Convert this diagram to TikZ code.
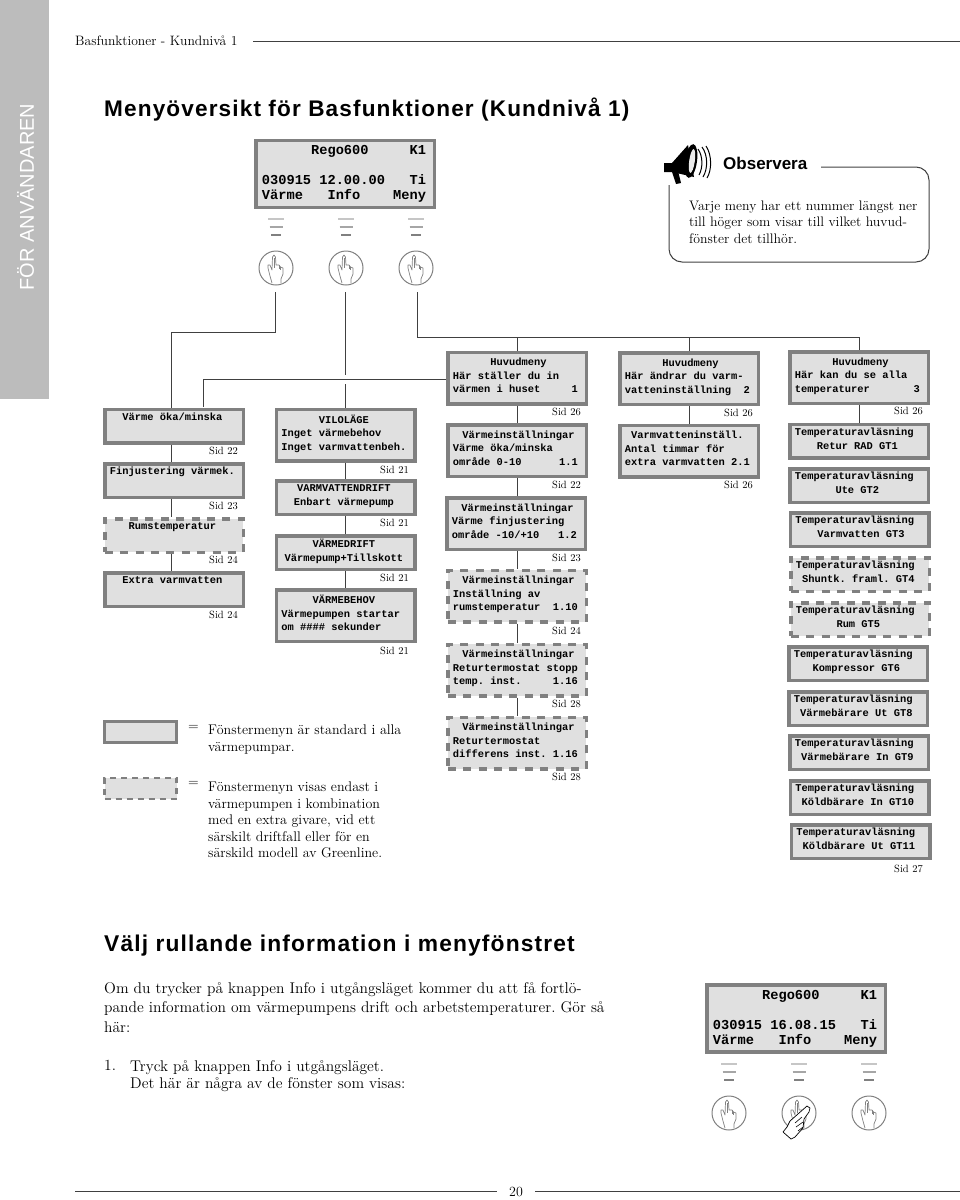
\documentclass[tikz,border=0pt]{standalone}
\usepackage{fontspec}
\newfontfamily\lcdface{Liberation Mono}
\newfontfamily\headface[LetterSpace=5]{Liberation Sans}
\newfontfamily\sideface{Liberation Sans}
\newfontfamily\infoface[OpticalSize=12]{Latin Modern Roman}
\newcommand{\halfgap}{\leavevmode\kern0.3em }
\newcommand{\fixedcells}{\frenchspacing\fontdimen2\font=0.6em\fontdimen3\font=0pt\fontdimen4\font=0pt\relax}
\definecolor{lcdfill}{HTML}{E0E0E0}
\definecolor{lcdedge}{HTML}{808080}
\definecolor{sidebar}{HTML}{BCBCBC}
\definecolor{wire}{HTML}{404040}
\tikzset{
    stdbox/.style={draw=lcdedge, fill=lcdfill, line width=3.5pt, minimum width=138.5pt, inner xsep=5.2pt, inner ysep=0pt,
        text width=128.1pt, align=flush left, font=\lcdface\bfseries\fontsize{10.4}{13.7}\selectfont\fixedcells,
        execute at end node={\rule[-5pt]{0pt}{5pt}}},
    optbox/.style={stdbox, dash pattern=on 8pt off 7.4pt},
    twoline/.style={minimum height=33.5pt},
    threeline/.style={minimum height=51.5pt},
    lcdbox/.style={stdbox, minimum width=178.5pt, minimum height=67pt, inner xsep=6.2pt, text width=166.1pt,
        font=\lcdface\bfseries\fontsize{13.67}{15}\selectfont\fixedcells, execute at begin node={\rule{0pt}{11.6pt}}},
    wireline/.style={draw=wire, line width=1pt},
    sidtext/.style={anchor=east, inner sep=0pt, font=\fontsize{10.5}{12}\selectfont},
    bodytext/.style={anchor=north west, inner sep=0pt, align=left, font=\fontsize{14}{16.6}\selectfont\frenchspacing},
    infotext/.style={bodytext, font=\infoface\fontsize{15.5}{19.5}\selectfont\frenchspacing},
    keybtn/.style={circle, draw=lcdedge, line width=1pt, minimum size=34pt, inner sep=0pt},
    keyhand/.pic={
        \draw[lcdedge, line width=0.7pt, line join=round]
            (-4,15) -- (-6,8) -- (-8,0) -- (-8,-3) -- (-6,-3) -- (-4,2) -- (-3.5,-11) -- (-2,-13) -- (-0.5,-11) -- (0,-3)
            -- (3,-3) -- (4.5,-1) -- (7,0) -- (7,6) -- (5,11) -- (5,15);
        \draw[lcdedge, line width=0.5pt] (-1.5,-10) -- (-1.5,0) (3,-3) -- (3,1) (4.5,-1) -- (4.5,2);
    },
    keymarks/.pic={
        \draw[gray!45, line width=1.2pt] (-8,0) -- (8,0);
        \draw[gray!70, line width=1.2pt] (-6.5,8) -- (6.5,8);
        \draw[gray, line width=1.5pt] (-5,16) -- (5,16);
    }
}
\begin{document}
\begin{tikzpicture}[x=1pt, y=-1pt]
    \useasboundingbox (0,0) rectangle (960,1200);

    % 1. sidebar, header and footer
    \fill[sidebar] (0,0) rectangle (49,399);
    \node[rotate=90, text=white, inner sep=0pt, font=\sideface\fontsize{20}{24}\selectfont] (sidebarText) at (25.5,197) {FÖR ANVÄNDAREN};
    \node[anchor=west, inner sep=0pt, font=\fontsize{13.6}{16}\selectfont\frenchspacing] (pageHead) at (75,41) {Basfunktioner - Kundnivå 1};
    \coordinate (headEnd) at (960,41);
    \draw[wireline] (253,41) -- (headEnd);
    \node[inner sep=0pt, font=\fontsize{14}{16}\selectfont] (pageNum) at (516,1192) {20};
    \coordinate (footLeft) at (75,1191);
    \coordinate (footRight) at (960,1191);
    \draw[wireline] (footLeft) -- (497,1191) (535,1191) -- (footRight);
    \node[anchor=west, inner sep=0pt, font=\headface\bfseries\fontsize{22.6}{26}\selectfont] (titleMain) at (104,110) {Menyöversikt för Basfunktioner (Kundnivå 1)};
    \node[anchor=west, inner sep=0pt, font=\headface\bfseries\fontsize{22.8}{26}\selectfont] (titleInfo) at (104,946) {Välj rullande information i menyfönstret};

    % 2. displays and keys
    \node[lcdbox] (lcdTop) at (345,174) {~~~~~~Rego600~~~~~K1\\ ~\\030915 12.00.00~~~Ti\\Värme~~~Info~~~~Meny};
    \node[lcdbox] (lcdInfo) at (796,1018.5) {~~~~~~Rego600~~~~~K1\\ ~\\030915 16.08.15~~~Ti\\Värme~~~Info~~~~Meny};
    \foreach \kname/\kx/\ky/\my in {keyVarme/276/268/219, keyInfo/346/268/219, keyMeny/416/268/219, keyA/729/1113/1064, keyB/799/1113/1064, keyC/869/1113/1064} {
        \node[keybtn] (\kname) at (\kx,\ky) {};
        \pic at (\kname) {keyhand};
        \pic at (\kx,\my) {keymarks};
    }
    % pressing hand on the Info key
    \draw[black, fill=white, line width=0.7pt, line join=round] (807,1106) -- (810,1108) -- (809,1112) -- (804,1119) -- (803,1128)
        -- (795,1137) -- (791,1139) -- (783,1132) -- (787,1127) -- (790,1121) -- cycle;
    \draw[black, line width=0.6pt] (795,1123) -- (802,1117) (796,1127) -- (803,1122) (798,1131) -- (803,1127);

    % 3. menu boxes, column by column
    \node[stdbox, twoline] (vOka) at (174,426) {~~Värme öka/minska\\ ~};
    \node[stdbox, twoline] (vFin) at (174,480.5) {Finjustering värmek.\\ ~};
    \node[optbox, twoline] (vRum) at (174,535.5) {~~~Rumstemperatur\\ ~};
    \node[stdbox, twoline] (vExtra) at (174,589.5) {~~Extra varmvatten\\ ~};

    \node[stdbox, threeline] (iVilo) at (345.5,435) {~~~~~~VILOLÄGE\\Inget värmebehov\\Inget varmvattenbeh.};
    \node[stdbox, twoline] (iVatten) at (345.5,497.5) {~~\halfgap VARMVATTENDRIFT\\~~Enbart värmepump};
    \node[stdbox, twoline] (iDrift) at (345.5,552.5) {~~~~~VÄRMEDRIFT\\\halfgap Värmepump+Tillskott};
    \node[stdbox, threeline] (iBehov) at (345.5,615.5) {~~~~~VÄRMEBEHOV\\Värmepumpen startar\\om \#\#\#\# sekunder};

    \node[stdbox, threeline] (huvudEtt) at (517,378) {~~~~~~Huvudmeny\\Här ställer du in\\värmen i huset~~~~~1};
    \node[stdbox, threeline] (m11) at (517,450.5) {~\halfgap Värmeinställningar\\Värme öka/minska\\område 0-10~~~~~~1.1};
    \node[stdbox, threeline] (m12) at (516,523.5) {~\halfgap Värmeinställningar\\Värme finjustering\\område -10/+10~~~1.2};
    \node[optbox, threeline] (m110) at (517,596) {~\halfgap Värmeinställningar\\Inställning av\\rumstemperatur~~1.10};
    \node[optbox, threeline] (m116a) at (517,670) {~\halfgap Värmeinställningar\\Returtermostat stopp\\temp. inst.~~~~~1.16};
    \node[optbox, threeline] (m116b) at (517,743) {~\halfgap Värmeinställningar\\Returtermostat\\differens inst. 1.16};

    \node[stdbox, threeline] (huvudTva) at (689,378.5) {~~~~~~Huvudmeny\\Här ändrar du varm-\\vatteninställning~~2};
    \node[stdbox, threeline] (m21) at (689,451) {~Varmvatteninställ.\\Antal timmar för\\extra varmvatten 2.1};

    \node[stdbox, threeline] (huvudTre) at (859,377.5) {~~~~~~Huvudmeny\\Här kan du se alla\\temperaturer~~~~~~~3};
    \node[stdbox, twoline] (gt1) at (859,441) {Temperaturavläsning\\~~~\halfgap Retur RAD GT1};
    \node[stdbox, twoline] (gt2) at (859,485.5) {Temperaturavläsning\\~~~~~~\halfgap Ute GT2};
    \node[stdbox, twoline] (gt3) at (859.5,529.5) {Temperaturavläsning\\~~~\halfgap Varmvatten GT3};
    \node[optbox, twoline] (gt4) at (860,574.5) {Temperaturavläsning\\~Shuntk. framl. GT4};
    \node[optbox, twoline] (gt5) at (860,619.5) {Temperaturavläsning\\~~~~~~\halfgap Rum GT5};
    \node[stdbox, twoline] (gt6) at (858,663.5) {Temperaturavläsning\\~~~Kompressor GT6};
    \node[stdbox, twoline] (gt8) at (858,708.5) {Temperaturavläsning\\~Värmebärare Ut GT8};
    \node[stdbox, twoline] (gt9) at (859,752.5) {Temperaturavläsning\\~Värmebärare In GT9};
    \node[stdbox, twoline] (gt10) at (859.5,797.5) {Temperaturavläsning\\~Köldbärare In GT10};
    \node[stdbox, twoline] (gt11) at (860.5,841.5) {Temperaturavläsning\\~Köldbärare Ut GT11};

    % 4. connectors
    \coordinate (wireVarme) at (275,292);
    \coordinate (turnVarme) at (171,332);
    \draw[wireline] (wireVarme) |- (turnVarme) -- (vOka.north -| turnVarme);
    \coordinate (wireInfoTop) at (345,292);
    \coordinate (wireInfoEnd) at (345,375);
    \coordinate (wireInfoLow) at (345,384);
    \coordinate (dropMeny) at (203,407);
    \draw[wireline] (wireInfoTop) -- (wireInfoEnd);
    \draw[wireline] (wireInfoLow) -- (iVilo.north -| wireInfoLow);
    \draw[wireline] (huvudEtt.west |- 0,379) -| (dropMeny);
    \coordinate (wireMeny) at (417,292);
    \coordinate (turnMeny) at (417,337);
    \draw[wireline] (wireMeny) -- (turnMeny) -| (huvudTre.north);
    \draw[wireline] (huvudEtt.north |- turnMeny) -- (huvudEtt.north);
    \draw[wireline] (huvudTva.north |- turnMeny) -- (huvudTva.north);
    \draw[wireline] (vOka.south -| turnVarme) -- (vFin.north -| turnVarme);
    \draw[wireline] (vFin.south -| turnVarme) -- (vRum.north -| turnVarme);
    \draw[wireline] (vRum.south -| turnVarme) -- (vExtra.north -| turnVarme);
    \draw[wireline] (iVilo.south) -- (iVatten.north);
    \draw[wireline] (iVatten.south) -- (iDrift.north);
    \draw[wireline] (iDrift.south) -- (iBehov.north);
    \draw[wireline] (huvudEtt.south) -- (m11.north);
    \draw[wireline] (m11.south) -- (m12.north -| m11.south);
    \draw[wireline] (m12.south -| m11.south) -- (m110.north);
    \draw[wireline] (m110.south) -- (m116a.north);
    \draw[wireline] (m116a.south) -- (m116b.north);
    \draw[wireline] (huvudTva.south) -- (m21.north);
    \draw[wireline] (huvudTre.south) -- (gt1.north);

    % 5. page references
    \foreach \sx/\sy/\snum [count=\k] in {238/451/22, 238/506/23, 238/560/24, 238/615/24,
        409/470/21, 409/523/21, 409/578/21, 409/651/21,
        581/412/26, 581/485/22, 581/558/23, 581/631/24, 581/704/28, 581/777/28,
        753/413/26, 753/485/26, 923/411/26, 923/869/27} {
        \node[sidtext] (sid\k) at (\sx,\sy) {Sid \snum};
    }

    % 6. legend
    \node[draw=lcdedge, fill=lcdfill, line width=3pt, minimum width=72pt, minimum height=21pt] (legendStd) at (140.5,732) {};
    \node[draw=lcdedge, fill=lcdfill, line width=2.5pt, dash pattern=on 6pt off 5pt, minimum width=72pt, minimum height=21pt] (legendOpt) at (140.5,788.5) {};
    \node[bodytext] (legendEqA) at (188,725) {=};
    \node[bodytext] (legendStdText) at (208,725) {Fönstermenyn är standard i alla\\värmepumpar.};
    \node[bodytext] (legendEqB) at (188,781.5) {=};
    \node[bodytext] (legendOptText) at (208,781.5) {Fönstermenyn visas endast i\\värmepumpen i kombination\\med en extra givare, vid ett\\särskilt driftfall eller för en\\särskild modell av Greenline.};

    % 7. note with megaphone
    \draw[wire, line width=1pt, rounded corners=13pt] (821,167) -| (929,262) -| (669,185);
    \node[anchor=west, inner sep=0pt, font=\sideface\bfseries\fontsize{17}{20}\selectfont] (obsHead) at (723,163) {Observera};
    \node[bodytext, font=\fontsize{13.8}{16.6}\selectfont\frenchspacing] (obsText) at (689,200.5) {Varje meny har ett nummer längst ner\\till höger som visar till vilket huvud-\\fönster det tillhör.};
    \fill[black] (664,163) -- (672,163) -- (688,145) -- (694,177) -- (672,172) -- (664,172) -- cycle;
    \fill[black] (672,172) -- (678,171) -- (681,183) -- (676,184) -- cycle;
    \fill[black, rotate around={-8:(691,161)}] (691,161) ellipse (6pt and 17pt);
    \fill[lcdfill!60, rotate around={-8:(692,161)}] (692,161) ellipse (2.8pt and 12pt);
    \draw[black, line width=1pt] (698,149) .. controls (703,156) and (703,168) .. (699,175);
    \draw[black, line width=1pt] (702,147) .. controls (708,155) and (708,169) .. (703,177);
    \draw[black, line width=1pt] (706,146) .. controls (712,155) and (712,170) .. (707,178);

    % 8. text under the second heading
    \node[infotext] (infoText) at (104,982) {Om du trycker på knappen Info i utgångsläget kommer du att få fortlö-\\pande information om värmepumpens drift och arbetstemperaturer. Gör så\\här:};
    \node[infotext, font=\infoface\fontsize{15.5}{17.5}\selectfont\frenchspacing] (infoNum) at (104,1060) {1.};
    \node[infotext, font=\infoface\fontsize{15.5}{17.5}\selectfont\frenchspacing] (infoStep) at (130,1060) {Tryck på knappen Info i utgångsläget.\\Det här är några av de fönster som visas:};
\end{tikzpicture}
\end{document}
